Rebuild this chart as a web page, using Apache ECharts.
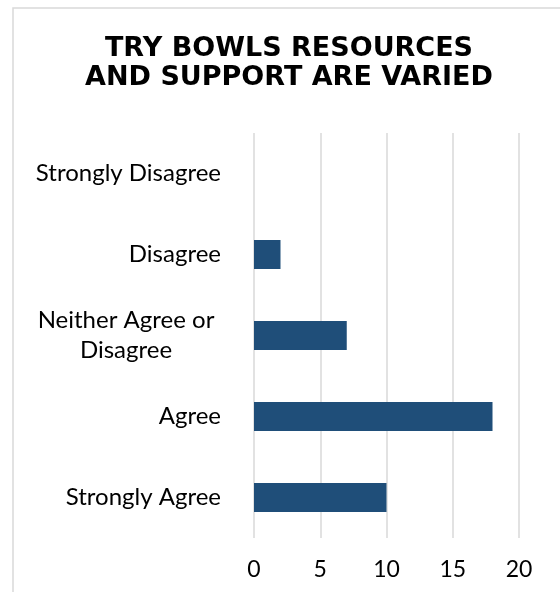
<!DOCTYPE html>
<html>
<head>
<meta charset="utf-8">
<script src="https://cdn.jsdelivr.net/npm/echarts@6/dist/echarts.min.js"></script>
<style>
html,body{margin:0;padding:0;background:#fff;}
#c{width:560px;height:592px;}
</style>
</head>
<body>
<div id="c"></div>
<script>
const titleLines = ['TRY BOWLS RESOURCES', 'AND SUPPORT ARE VARIED'];
const categories = ['Strongly Agree', 'Agree', 'Neither Agree or Disagree', 'Disagree', 'Strongly Disagree'];
const values = [10, 18, 7, 2, 0];
const xTicks = [0, 5, 10, 15, 20];

const FONT = 'Lato, "Open Sans", sans-serif';
const chart = echarts.init(document.getElementById('c'), null, {renderer: 'canvas'});
chart.setOption({
  animation: false,
  backgroundColor: '#fff',
  graphic: [{
    type: 'rect', z: -1,
    shape: {x: 13, y: 8, width: 600, height: 620},
    style: {fill: '#fff', stroke: '#D9D9D9', lineWidth: 1.5}
  }],
  title: {
    text: titleLines.join('\n'),
    left: 284, top: 29, textAlign: 'center',
    textStyle: {fontFamily: '"DejaVu Sans", sans-serif', fontWeight: 'bold', fontSize: 27, lineHeight: 29, color: '#000'}
  },
  grid: {left: 254, right: 41, top: 133, bottom: 54, containLabel: false},
  xAxis: {
    type: 'value', min: xTicks[0], max: xTicks[xTicks.length - 1], interval: 5,
    axisLine: {show: false}, axisTick: {show: false},
    splitLine: {show: true, lineStyle: {color: '#D9D9D9', width: 1.5}},
    axisLabel: {fontFamily: FONT, fontSize: 23, color: '#000', margin: 20}
  },
  yAxis: {
    type: 'category', data: categories,
    axisLine: {show: false}, axisTick: {show: false},
    axisLabel: {
      fontFamily: FONT, fontSize: 24, color: '#000', margin: 33, lineHeight: 30,
      formatter: function (v) {
        if (v === 'Neither Agree or Disagree') return '{c|Neither Agree or}\n{c|Disagree}';
        return v;
      },
      rich: {c: {fontFamily: FONT, fontSize: 24, color: '#000', width: 190, align: 'center', lineHeight: 30}}
    }
  },
  series: [{
    type: 'bar', data: values, barWidth: 29,
    itemStyle: {color: '#1F4E79'}
  }]
});
</script>
</body>
</html>
